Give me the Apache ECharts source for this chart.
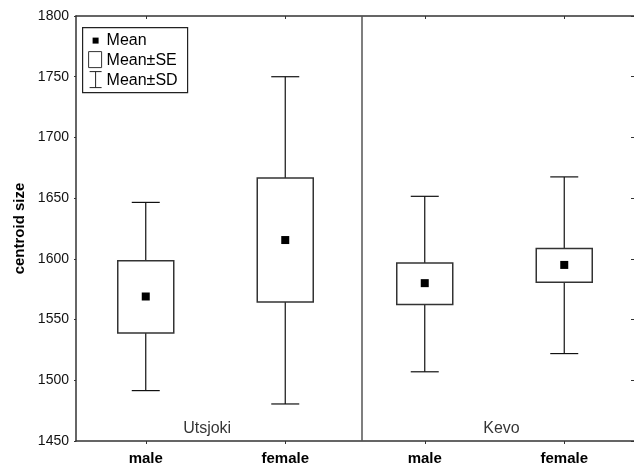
<!DOCTYPE html>
<html>
<head>
<meta charset="utf-8">
<script src="https://cdn.jsdelivr.net/npm/echarts@6/dist/echarts.min.js"></script>
<style>
html,body{margin:0;padding:0;background:#fff;}
#chart{width:634px;height:468px;}
</style>
</head>
<body>
<div id="chart"></div>
<script>
const categories = ['male', 'female', 'male', 'female'];
const sites = ['Utsjoki', 'Kevo'];
const sitePos = [0.94, 3.05];
const meanVals = [1569, 1615.5, 1580, 1595];
const seLow = [1539, 1564.5, 1562.5, 1580.7];
const seHigh = [1598.5, 1666.5, 1596.5, 1608.5];
const sdLow = [1491.5, 1480.5, 1507, 1522];
const sdHigh = [1646.5, 1750, 1651.5, 1667.5];
const yTicks = { min: 1450, max: 1800, interval: 50 };
const dividerAt = 2.05;

const FONT = "'Liberation Sans', Arial, sans-serif";
const LINE = '#111';

const boxData = categories.map((c, i) => [i, sdLow[i], seLow[i], meanVals[i], seHigh[i], sdHigh[i]]);

function renderItem(params, api) {
  const x = api.value(0);
  const pSdLo = api.coord([x, api.value(1)]);
  const pSeLo = api.coord([x, api.value(2)]);
  const pMean = api.coord([x, api.value(3)]);
  const pSeHi = api.coord([x, api.value(4)]);
  const pSdHi = api.coord([x, api.value(5)]);
  const halfBox = 28, halfCap = 14, m = 4;
  const ls = { stroke: LINE, lineWidth: 1.2 };
  return {
    type: 'group',
    children: [
      { type: 'line', shape: { x1: pSdLo[0], y1: pSdLo[1], x2: pSeLo[0], y2: pSeLo[1] }, style: ls },
      { type: 'line', shape: { x1: pSeHi[0], y1: pSeHi[1], x2: pSdHi[0], y2: pSdHi[1] }, style: ls },
      { type: 'line', shape: { x1: pSdLo[0] - halfCap, y1: pSdLo[1], x2: pSdLo[0] + halfCap, y2: pSdLo[1] }, style: ls },
      { type: 'line', shape: { x1: pSdHi[0] - halfCap, y1: pSdHi[1], x2: pSdHi[0] + halfCap, y2: pSdHi[1] }, style: ls },
      { type: 'rect', shape: { x: pSeHi[0] - halfBox, y: pSeHi[1], width: halfBox * 2, height: pSeLo[1] - pSeHi[1] },
        style: { fill: '#fff', stroke: '#333', lineWidth: 1.5 } },
      { type: 'rect', shape: { x: pMean[0] - m, y: pMean[1] - m, width: 2 * m, height: 2 * m },
        style: { fill: '#000' } }
    ]
  };
}

const chart = echarts.init(document.getElementById('chart'), null, { renderer: 'canvas' });
chart.setOption({
  animation: false,
  backgroundColor: '#fff',
  grid: { left: 76, right: -1, top: 16, bottom: 27, containLabel: false },
  xAxis: [
    {
      type: 'category', data: categories, position: 'bottom', boundaryGap: true,
      axisLine: { show: true, lineStyle: { color: '#333', width: 1.5 } },
      axisTick: { show: true, alignWithLabel: true, length: 3, inside: false, lineStyle: { color: '#333' } },
      axisLabel: { fontFamily: FONT, fontSize: 15, fontWeight: 'bold', color: '#000', margin: 10 },
      splitLine: { show: false }
    },
    {
      type: 'category', data: categories, position: 'top', boundaryGap: true,
      axisLine: { show: true, lineStyle: { color: '#333', width: 1.5 } },
      axisTick: { show: true, alignWithLabel: true, length: 3, inside: true, lineStyle: { color: '#333' } },
      axisLabel: { show: false },
      splitLine: { show: false }
    },
    {
      type: 'value', min: 0, max: 4, show: false, position: 'bottom'
    }
  ],
  yAxis: [
    {
      type: 'value', min: yTicks.min, max: yTicks.max, interval: yTicks.interval, position: 'left',
      name: 'centroid size', nameLocation: 'middle', nameGap: 49, nameRotate: 90,
      nameTextStyle: { fontFamily: FONT, fontSize: 15, fontWeight: 'bold', color: '#000' },
      axisLine: { show: true, lineStyle: { color: '#333', width: 1.5 } },
      axisTick: { show: true, length: 2, lineStyle: { color: '#333' } },
      axisLabel: { fontFamily: FONT, fontSize: 14, color: '#111', margin: 7, formatter: v => String(v) },
      splitLine: { show: false }
    },
    {
      type: 'value', min: yTicks.min, max: yTicks.max, interval: yTicks.interval, position: 'right',
      axisLine: { show: false },
      axisTick: { show: true, inside: true, length: 3, lineStyle: { color: '#333' } },
      axisLabel: { show: false },
      splitLine: { show: false }
    }
  ],
  series: [
    {
      type: 'custom', name: 'stats', xAxisIndex: 0, yAxisIndex: 0,
      renderItem: renderItem, data: boxData, silent: true, clip: false
    },
    {
      type: 'scatter', xAxisIndex: 2, yAxisIndex: 0, symbolSize: 0, silent: true,
      data: sites.map((s, i) => ({ value: [sitePos[i], yTicks.min], name: s })),
      label: {
        show: true, position: 'top', distance: 4, formatter: p => p.name,
        fontFamily: FONT, fontSize: 16, color: '#000'
      },
      markLine: {
        silent: true, symbol: 'none', label: { show: false },
        lineStyle: { color: '#555', width: 1.5, type: 'solid' },
        data: [{ xAxis: dividerAt }]
      }
    }
  ],
  graphic: [
    {
      type: 'group', left: 82, top: 27,
      children: [
        { type: 'rect', shape: { x: 0, y: 0, width: 105, height: 65 }, style: { fill: '#fff', stroke: '#222', lineWidth: 1.2 } },
        { type: 'rect', shape: { x: 10, y: 10, width: 6, height: 6 }, style: { fill: '#000' } },
        { type: 'rect', shape: { x: 6, y: 24, width: 13, height: 16 }, style: { fill: '#fff', stroke: '#333', lineWidth: 1 } },
        { type: 'line', shape: { x1: 7, y1: 44, x2: 19, y2: 44 }, style: { stroke: '#222', lineWidth: 1 } },
        { type: 'line', shape: { x1: 13, y1: 44, x2: 13, y2: 60 }, style: { stroke: '#222', lineWidth: 1 } },
        { type: 'line', shape: { x1: 7, y1: 60, x2: 19, y2: 60 }, style: { stroke: '#222', lineWidth: 1 } },
        { type: 'text', x: 24, y: 13, style: { text: 'Mean', fontFamily: FONT, fontSize: 16, fill: '#000', verticalAlign: 'middle' } },
        { type: 'text', x: 24, y: 33, style: { text: 'Mean±SE', fontFamily: FONT, fontSize: 16, fill: '#000', verticalAlign: 'middle' } },
        { type: 'text', x: 24, y: 53, style: { text: 'Mean±SD', fontFamily: FONT, fontSize: 16, fill: '#000', verticalAlign: 'middle' } }
      ]
    }
  ]
});
</script>
</body>
</html>
